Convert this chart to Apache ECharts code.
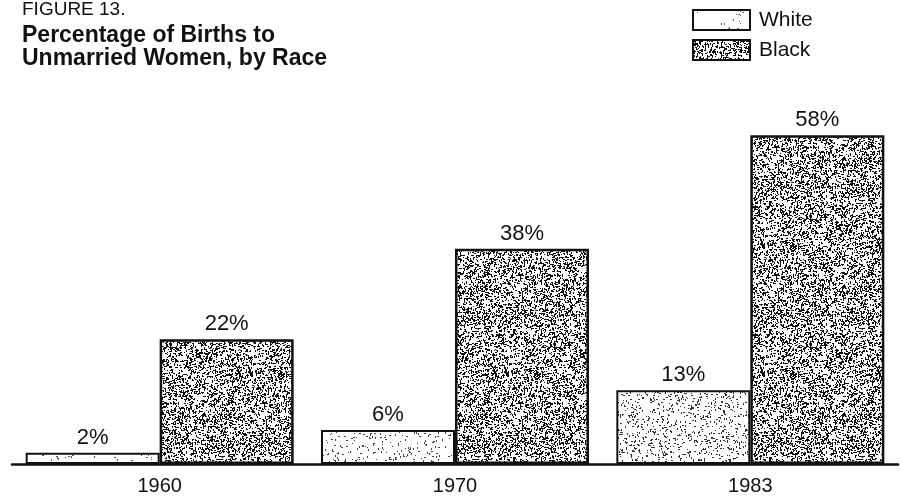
<!DOCTYPE html>
<html>
<head>
<meta charset="utf-8">
<script src="https://cdn.jsdelivr.net/npm/echarts@6/dist/echarts.min.js"></script>
<style>
  html, body { margin: 0; padding: 0; background: #fff; }
  #chart { width: 901px; height: 496px; }
</style>
</head>
<body>
<div id="chart"></div>
<script>
// Births to unmarried women, percent of all births, by race
const categories = ['1960', '1970', '1983'];
const whiteValues = [2, 6, 13];
const blackValues = [22, 38, 58];
const seriesNames = ['White', 'Black'];

// Printed-screen stipple texture, built from a fixed-seed generator
function stipple(size, density, seed, ink) {
  const c = document.createElement('canvas');
  c.width = size; c.height = size;
  const ctx = c.getContext('2d');
  ctx.fillStyle = '#ffffff';
  ctx.fillRect(0, 0, size, size);
  let s = seed >>> 0;
  const next = () => { s = (Math.imul(s, 1103515245) + 12345) >>> 0; return s / 4294967296; };
  ctx.fillStyle = ink;
  const count = Math.round(size * size * density / 1.6);
  for (let i = 0; i < count; i++) {
    const x = Math.floor(next() * size);
    const y = Math.floor(next() * size);
    const r = next();
    if (r < 0.35) ctx.fillRect(x, y, 2, 1);
    else if (r < 0.7) ctx.fillRect(x, y, 1, 2);
    else ctx.fillRect(x, y, 1, 1);
  }
  return c;
}

const FONT = 'Liberation Sans, Arial, Helvetica, sans-serif';
const INK = '#111111';

const darkFill = { image: stipple(128, 0.42, 12345, INK), repeat: 'repeat' };
// the open bars carry a faint, uneven speckle from the print screen
const lightFills = [
  { image: stipple(128, 0.02, 901, '#555555'), repeat: 'repeat' },
  { image: stipple(128, 0.07, 777, '#444444'), repeat: 'repeat' },
  { image: stipple(128, 0.14, 4242, '#333333'), repeat: 'repeat' }
];
const legendLightFill = { image: stipple(64, 0.02, 55, '#666666'), repeat: 'repeat' };

const labelStyle = {
  show: true,
  position: 'top',
  distance: 4,
  formatter: '{c}%',
  color: INK,
  fontFamily: FONT,
  fontSize: 22
};

const chart = echarts.init(document.getElementById('chart'), null, { renderer: 'canvas' });
chart.setOption({
  animation: false,
  backgroundColor: '#ffffff',
  title: [
    {
      text: 'FIGURE 13.',
      left: 22, top: 0, padding: 0,
      textStyle: { fontFamily: FONT, fontSize: 19, fontWeight: 'normal', color: INK }
    },
    {
      text: 'Percentage of Births to\nUnmarried Women, by Race',
      left: 22, top: 24, padding: 0,
      textStyle: { fontFamily: FONT, fontSize: 23, fontWeight: 'bold', color: INK, lineHeight: 23 }
    }
  ],
  legend: {
    data: [
      { name: seriesNames[0], itemStyle: { color: legendLightFill } },
      { name: seriesNames[1] }
    ],
    orient: 'vertical',
    left: 692, top: 9, padding: 0,
    itemWidth: 57, itemHeight: 20, itemGap: 8,
    icon: 'rect',
    itemStyle: { borderColor: INK, borderWidth: 2 },
    textStyle: { fontFamily: FONT, fontSize: 21, color: INK, padding: [0, 0, 0, 4] }
  },
  grid: { left: 12, right: 3, top: 124, bottom: 28, containLabel: false },
  xAxis: {
    type: 'category',
    data: categories,
    axisLine: { lineStyle: { color: INK, width: 2.5 } },
    axisTick: { show: false },
    axisLabel: { color: INK, fontFamily: FONT, fontSize: 20, margin: 12 }
  },
  yAxis: {
    type: 'value',
    min: 0, max: 60,
    show: false,
    splitLine: { show: false }
  },
  series: [
    {
      name: seriesNames[0],
      type: 'bar',
      data: whiteValues.map((v, i) => ({ value: v, itemStyle: { color: lightFills[i] } })),
      barWidth: 134,
      barGap: '0%',
      itemStyle: { color: lightFills[0], borderColor: INK, borderWidth: 2 },
      label: labelStyle
    },
    {
      name: seriesNames[1],
      type: 'bar',
      data: blackValues,
      barWidth: 134,
      barGap: '0%',
      itemStyle: { color: darkFill, borderColor: INK, borderWidth: 2.5 },
      label: labelStyle
    }
  ]
});
</script>
</body>
</html>
